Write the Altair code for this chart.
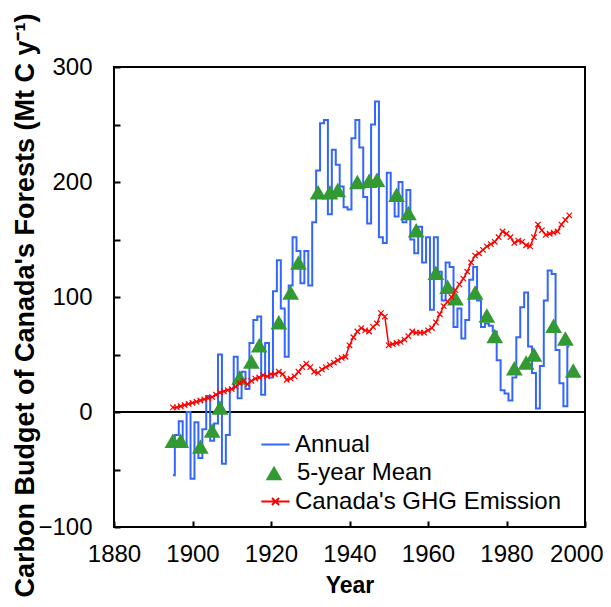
import altair as alt
import pandas as pd

# ---------------- data ----------------
annual_years = list(range(1895, 1997))
annual_vals = [
    -55, -20, -8, -30, 0, -58, -9, -40, -15, 14,
    -25, -10, 50, -45, -20, 20, 48, 12, 35, 20,
    60, 80, 83, 15, 60, 30, 105, 132, 90, 48,
    110, 152, 140, 112, 140, 110, 165, 210, 251, 254,
    172, 228, 215, 196, 178, 176, 238, 254, 230, 187,
    164, 250, 270, 152, 147, 208, 184, 170, 200, 165,
    193, 150, 138, 161, 130, 152, 89, 152, 122, 97,
    130, 126, 74, 90, 64, 80, 115, 126, 97, 74,
    77, 75, 70, 45, 19, 16, 10, 30, 65, 91,
    104, 57, 34, 3, 40, 97, 123, 120, 54, 25,
    5, 57,
]

mean_years = [1895, 1897, 1902, 1905, 1907, 1912, 1915, 1917, 1922, 1925,
              1927, 1932, 1935, 1937, 1942, 1945, 1947, 1952, 1955, 1957,
              1962, 1965, 1967, 1972, 1975, 1977, 1982, 1985, 1987, 1992,
              1995, 1997]
mean_vals = [-25, -25, -30, -16, 4, 30, 44, 58, 78, 104,
             130, 191, 191, 193, 200, 201, 202, 189, 173, 158,
             121, 109, 99, 104, 84, 66, 38, 43, 50, 75,
             64, 36]

ghg_years = list(range(1895, 1997))
ghg_vals = [
    4, 4, 5, 6, 7, 8, 9, 10, 11, 12,
    13, 15, 17, 18, 19, 20, 22, 25, 27, 24,
    27, 29, 30, 32, 31, 33, 33, 35, 33, 28,
    29, 31, 35, 39, 42, 39, 35, 34, 37, 39,
    41, 43, 45, 47, 48, 58, 65, 70, 73, 71,
    70, 74, 77, 86, 83, 58, 59, 60, 61, 63,
    66, 70, 69, 69, 69, 71, 73, 78, 85, 92,
    96, 100, 106, 111, 116, 122, 130, 136, 138, 141,
    144, 146, 148, 152, 157, 155, 152, 147, 149, 148,
    145, 144, 152, 163, 158, 154, 155, 156, 157, 163,
    167, 171,
]

series_names = ["Annual", "5-year Mean", "Canada's GHG Emission"]
series_colors = ["#3366ff", "#339933", "#ff0000"]

x_ticks = [1880, 1900, 1920, 1940, 1960, 1980, 2000]
y_ticks = [-100, -50, 0, 50, 100, 150, 200, 250, 300]
zero_line = [0]

FONT = "Liberation Sans"

annual_df = pd.DataFrame({"year": annual_years, "value": annual_vals, "s1": series_names[0]})
mean_df = pd.DataFrame({"year": mean_years, "value": mean_vals, "s2": series_names[1]})
ghg_df = pd.DataFrame({"year": ghg_years, "value": ghg_vals, "s3": series_names[2]})
zero_df = pd.DataFrame({"value": zero_line})

xscale = alt.Scale(domain=[1880, 2000], nice=False)
yscale = alt.Scale(domain=[-100, 300], nice=False)

last_tick = "datum.value === %d" % x_ticks[-1]
x_axis = alt.Axis(
    values=x_ticks, format="d", grid=False, domain=False,
    tickSize=6, tickWidth=2, tickColor="black", offset=-6,
    labelFont=FONT, labelFontSize=24, labelColor="black", labelPadding=15,
    labelAlign={"condition": {"test": last_tick, "value": "right"}, "value": "center"},
    labelOffset={"condition": {"test": last_tick, "value": 18}, "value": 0},
    labelOverlap=False, labelFlush=False,
    title="Year", titleFont=FONT, titleFontSize=23, titleFontWeight="bold",
    titleColor="black", titleBaseline="alphabetic", titleY=71,
)
y_axis = alt.Axis(
    values=y_ticks, grid=False, domain=False,
    tickSize=6, tickWidth=2, tickColor="black", offset=-6,
    labelExpr="datum.value % 100 === 0 ? datum.label : ''",
    labelFont=FONT, labelFontSize=24, labelColor="black", labelPadding=22,
    labelOverlap=False,
    title="Carbon Budget of Canada's Forests (Mt C y\u207b\u00b9)",
    titleFont=FONT, titleFontSize=27, titleFontWeight="bold", titleColor="black",
    titleBaseline="middle", titleX=-95, titleY=238,
)

common_leg = dict(title=None, orient="none", labelFont=FONT, labelFontSize=24,
                  labelColor="black", padding=0, rowPadding=0, labelLimit=400)

leg_annual = alt.Legend(legendX=146, legendY=362, symbolType="stroke", symbolSize=800,
                        symbolStrokeWidth=2, labelOffset=4, **common_leg)
leg_mean = alt.Legend(legendX=148, legendY=394, symbolType="triangle-up", symbolSize=280,
                      symbolStrokeWidth=0, symbolOpacity=1, labelOffset=11, **common_leg)
leg_ghg = alt.Legend(legendX=146, legendY=419,
                     symbolType="M-1,0L1,0M-0.25,-0.25L0.25,0.25M-0.25,0.25L0.25,-0.25",
                     symbolSize=800, symbolStrokeWidth=2, symbolFillColor="transparent",
                     labelOffset=4, **common_leg)

zero = alt.Chart(zero_df).mark_rule(color="black", strokeWidth=2).encode(
    y=alt.Y("value:Q", scale=yscale, axis=y_axis)
)

blue = alt.Chart(annual_df).mark_line(strokeWidth=2, interpolate="step").encode(
    x=alt.X("year:Q", scale=xscale, axis=x_axis),
    y=alt.Y("value:Q", scale=yscale),
    color=alt.Color("s1:N", scale=alt.Scale(domain=[series_names[0]], range=[series_colors[0]]),
                    legend=leg_annual),
)

tri = alt.Chart(mean_df).mark_point(shape="triangle-up", filled=True, size=280, opacity=1).encode(
    x=alt.X("year:Q", scale=xscale),
    y=alt.Y("value:Q", scale=yscale),
    fill=alt.Fill("s2:N", scale=alt.Scale(domain=[series_names[1]], range=[series_colors[1]]),
                  legend=leg_mean),
)

red_line = alt.Chart(ghg_df).mark_line(strokeWidth=1.5).encode(
    x=alt.X("year:Q", scale=xscale),
    y=alt.Y("value:Q", scale=yscale),
    stroke=alt.Stroke("s3:N", scale=alt.Scale(domain=[series_names[2]], range=[series_colors[2]]),
                      legend=leg_ghg),
)
red_pts = alt.Chart(ghg_df).mark_point(
    shape="M-1,-1L1,1M-1,1L1,-1", size=30, filled=False, color="#ff0000", strokeWidth=1.2, opacity=1
).encode(
    x=alt.X("year:Q", scale=xscale),
    y=alt.Y("value:Q", scale=yscale),
)

chart = alt.layer(zero, blue, tri, red_line, red_pts).properties(
    width=471, height=460,
    background="white",
    autosize=alt.AutoSizeParams(type="none"),
    padding={"left": 106, "top": 59, "right": 18, "bottom": 70},
).configure_view(stroke="black", strokeWidth=2)

chart.save("out.html", embed_options={"renderer": "svg", "actions": False})
